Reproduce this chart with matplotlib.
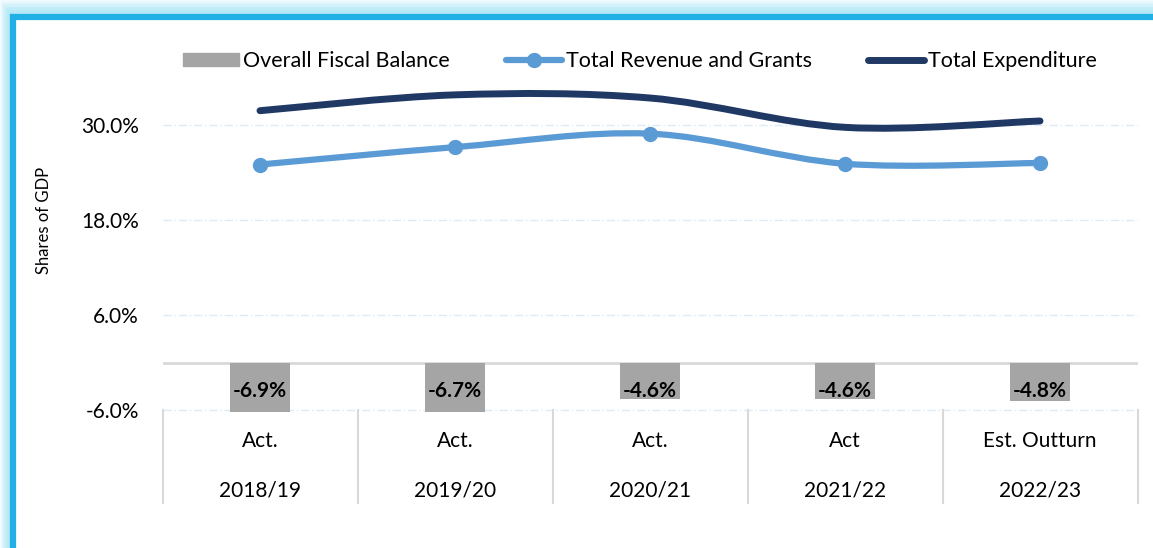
import numpy as np
import matplotlib
matplotlib.use('Agg')
import matplotlib.pyplot as plt
from matplotlib.path import Path
from matplotlib.patches import PathPatch, Rectangle
from matplotlib.lines import Line2D

plt.rcParams['font.family'] = ['Lato', 'DejaVu Sans']

status = ['Act.', 'Act.', 'Act.', 'Act', 'Est. Outturn']
years = ['2018/19', '2019/20', '2020/21', '2021/22', '2022/23']
balance = [-6.9, -6.7, -4.6, -4.6, -4.8]
revenue = [25.0, 27.2, 28.9, 25.1, 25.2]
expenditure = [31.8, 33.8, 33.4, 29.7, 30.5]

bar_col = '#A5A5A5'
rev_col = '#5B9BD5'
exp_col = '#203864'
frame_col = '#20B0E6'


def smooth_path(xs, ys):
    # excel-style smoothed line: catmull-rom turned into bezier segments
    pts = np.column_stack([xs, ys]).astype(float)
    n = len(pts)
    verts = [pts[0]]
    codes = [Path.MOVETO]
    for i in range(n - 1):
        p0 = pts[max(i - 1, 0)]
        p1 = pts[i]
        p2 = pts[i + 1]
        p3 = pts[min(i + 2, n - 1)]
        c1 = p1 + (p2 - p0) / 6
        c2 = p2 - (p3 - p1) / 6
        verts += [c1, c2, p2]
        codes += [Path.CURVE4] * 3
    return Path(verts, codes)


W, H = 1153, 548
fig = plt.figure(figsize=(W / 100, H / 100), dpi=100)

# soft cyan glow around the left/top of the frame
for k in range(10):
    off = k
    fig.patches.append(Rectangle((off / W, -0.1), 1.2, (H - off * 1.4) / H + 0.1, transform=fig.transFigure,
                                 facecolor='#8FE0F7', edgecolor='none', alpha=0.1, zorder=-5))
fig.patches.append(Rectangle((13 / W, -0.1), 1.2, (H - 17) / H + 0.1, transform=fig.transFigure,
                             facecolor='white', edgecolor=frame_col, lw=4.5, zorder=-4))

ax = fig.add_axes([162.5 / W, 0.2474, 975 / W, 0.6113])
ax.set_xlim(-0.5, 4.5)
ax.set_ylim(-6.3, 36)
ax.patch.set_visible(False)
x = np.arange(len(years))

ax.set_yticks([-6, 6, 18, 30])
ax.set_yticklabels([f'{v:.1f}%' for v in [-6, 6, 18, 30]], fontsize=15)
ax.tick_params(axis='y', length=0, pad=17)
ax.set_xticks([])
for s in ax.spines.values():
    s.set_visible(False)
ax.grid(axis='y', color='#DCEBF5', linestyle=(0, (6, 2, 1, 2)), lw=1)
ax.set_axisbelow(True)
ax.axhline(0, color='#D9D9D9', lw=2, zorder=1)

ax.bar(x, balance, width=0.31, color=bar_col, zorder=2)
for xi, v in zip(x, balance):
    ax.text(xi, -3.6, f'{v:.1f}%', ha='center', va='center', fontsize=15, fontweight='bold', zorder=5)

ax.add_patch(PathPatch(smooth_path(x, expenditure), fill=False, edgecolor=exp_col, lw=5,
                       capstyle='round', zorder=3))
ax.add_patch(PathPatch(smooth_path(x, revenue), fill=False, edgecolor=rev_col, lw=4.5,
                       capstyle='round', zorder=4))
ax.plot(x, revenue, 'o', color=rev_col, ms=10, zorder=4)

# two-level category labels
tr = ax.get_xaxis_transform()
for xi, s, y in zip(x, status, years):
    ax.text(xi, -0.0854, s, transform=tr, ha='center', va='center', fontsize=15, clip_on=False)
    ax.text(xi, -0.2316, y, transform=tr, ha='center', va='center', fontsize=15, clip_on=False)
for xe in np.arange(-0.5, 5, 1):
    ax.plot([xe, xe], [0.007, -0.27], transform=tr, color='#D9D9D9', lw=1.5, clip_on=False)

fig.text(44 / W, 1 - 220 / H, 'Shares of GDP', rotation=90, ha='center', va='center', fontsize=12)

handles = [Rectangle((0, 0), 1, 1, color=bar_col),
           Line2D([], [], color=rev_col, lw=4.5, marker='o', ms=10, solid_capstyle='round'),
           Line2D([], [], color=exp_col, lw=5, solid_capstyle='round')]
fig.legend(handles, ['Overall Fiscal Balance', 'Total Revenue and Grants', 'Total Expenditure'],
           loc='center', bbox_to_anchor=(640 / W, 1 - 61 / H), ncol=3, frameon=False,
           fontsize=15.5, handlelength=2.6, handletextpad=0.2, columnspacing=2.6, handleheight=0.6)

fig.savefig('out.png', dpi=100)
